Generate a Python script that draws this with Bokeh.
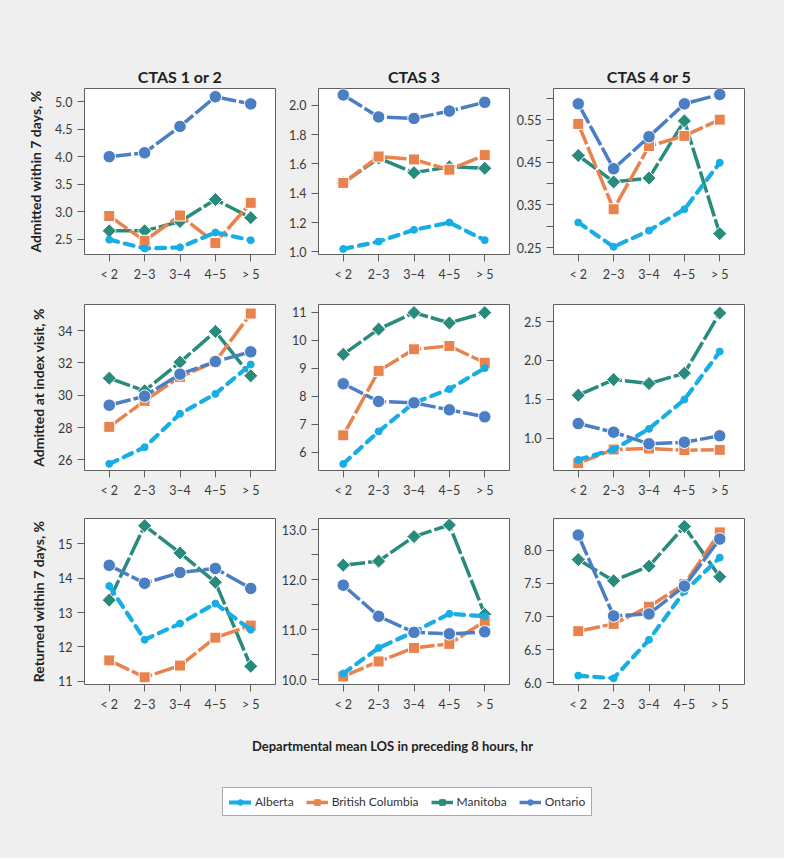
import numpy as np
from bokeh.plotting import figure
from bokeh.models import (Range1d, FixedTicker, NumeralTickFormatter, Legend,
                          LegendItem, Label, ColumnDataSource)
from bokeh.layouts import row, column
from bokeh.embed import file_html
from bokeh.resources import INLINE

# ---------------- data ----------------
cats = ["< 2", "2–3", "3–4", "4–5", "> 5"]
provinces = ["Alberta", "British Columbia", "Manitoba", "Ontario"]
col_titles = ["CTAS 1 or 2", "CTAS 3", "CTAS 4 or 5"]
row_labels = ["Admitted within 7 days, %", "Admitted at index visit, %",
              "Returned within 7 days, %"]
x_title = "Departmental mean LOS in preceding 8 hours, hr"

# Admitted within 7 days
adm7_c12_alberta = [2.49, 2.33, 2.35, 2.62, 2.48]
adm7_c12_bc = [2.92, 2.47, 2.93, 2.43, 3.16]
adm7_c12_manitoba = [2.65, 2.65, 2.82, 3.22, 2.89]
adm7_c12_ontario = [4.00, 4.07, 4.55, 5.09, 4.96]

adm7_c3_alberta = [1.02, 1.07, 1.15, 1.20, 1.08]
adm7_c3_bc = [1.47, 1.65, 1.63, 1.56, 1.66]
adm7_c3_manitoba = [1.47, 1.64, 1.54, 1.58, 1.57]
adm7_c3_ontario = [2.07, 1.92, 1.91, 1.96, 2.02]

adm7_c45_alberta = [0.309, 0.252, 0.290, 0.340, 0.449]
adm7_c45_bc = [0.540, 0.340, 0.488, 0.512, 0.550]
adm7_c45_manitoba = [0.466, 0.404, 0.413, 0.547, 0.283]
adm7_c45_ontario = [0.587, 0.435, 0.510, 0.587, 0.609]

# Admitted at index visit
idx_c12_alberta = [25.75, 26.78, 28.85, 30.08, 31.90]
idx_c12_bc = [28.04, 29.65, 31.13, 32.08, 35.05]
idx_c12_manitoba = [31.05, 30.27, 32.04, 33.94, 31.20]
idx_c12_ontario = [29.38, 29.94, 31.30, 32.08, 32.68]

idx_c3_alberta = [5.58, 6.74, 7.76, 8.25, 9.00]
idx_c3_bc = [6.60, 8.90, 9.67, 9.79, 9.19]
idx_c3_manitoba = [9.49, 10.39, 10.98, 10.61, 10.98]
idx_c3_ontario = [8.44, 7.81, 7.76, 7.51, 7.26]

idx_c45_alberta = [0.721, 0.854, 1.120, 1.497, 2.114]
idx_c45_bc = [0.678, 0.854, 0.867, 0.845, 0.850]
idx_c45_manitoba = [1.553, 1.754, 1.703, 1.836, 2.610]
idx_c45_ontario = [1.188, 1.077, 0.927, 0.948, 1.030]

# Returned within 7 days
ret_c12_alberta = [13.77, 12.21, 12.68, 13.26, 12.50]
ret_c12_bc = [11.61, 11.12, 11.46, 12.27, 12.62]
ret_c12_manitoba = [13.36, 15.52, 14.73, 13.88, 11.44]
ret_c12_ontario = [14.37, 13.85, 14.16, 14.28, 13.70]

ret_c3_alberta = [10.13, 10.64, 10.96, 11.32, 11.27]
ret_c3_bc = [10.07, 10.37, 10.64, 10.72, 11.17]
ret_c3_manitoba = [12.29, 12.37, 12.86, 13.09, 11.31]
ret_c3_ontario = [11.89, 11.27, 10.95, 10.92, 10.96]

ret_c45_alberta = [6.11, 6.07, 6.65, 7.38, 7.89]
ret_c45_bc = [6.78, 6.89, 7.15, 7.49, 8.27]
ret_c45_manitoba = [7.86, 7.54, 7.76, 8.36, 7.60]
ret_c45_ontario = [8.23, 7.01, 7.04, 7.46, 8.17]

# y tick values (major labelled, minor unlabelled)
yticks_adm7_c12 = [2.5, 3.0, 3.5, 4.0, 4.5, 5.0]
yticks_adm7_c3 = [1.0, 1.2, 1.4, 1.6, 1.8, 2.0]
yticks_adm7_c45 = [0.25, 0.35, 0.45, 0.55]
yminor_adm7_c45 = [0.30, 0.40, 0.50, 0.60]
yticks_idx_c12 = [26, 28, 30, 32, 34]
yticks_idx_c3 = [6, 7, 8, 9, 10, 11]
yticks_idx_c45 = [1.0, 1.5, 2.0, 2.5]
yticks_ret_c12 = [11, 12, 13, 14, 15]
yticks_ret_c3 = [10.0, 11.0, 12.0, 13.0]
yminor_ret_c3 = [10.5, 11.5, 12.5]
yticks_ret_c45 = [6.0, 6.5, 7.0, 7.5, 8.0]

# ---------------- styling ----------------
FONT = "Lato"
BG = "#eeefee"
styles = {
    "Alberta": dict(color="#19ade6", dash="9 7", width=4.2, cap="round",
                    marker="circle", size=7, angle=0.0, outline=None),
    "British Columbia": dict(color="#e8834d", dash="22 3", width=3.5, cap="butt",
                             marker="square", size=11, angle=0.0, outline="white"),
    "Manitoba": dict(color="#288b7b", dash="22 3", width=3.5, cap="butt",
                     marker="square", size=10, angle=np.pi / 4, outline="white"),
    "Ontario": dict(color="#4c7ec3", dash="22 3", width=3.5, cap="butt",
                    marker="circle", size=12.5, angle=0.0, outline="white"),
}
draw_order = ["Manitoba", "British Columbia", "Alberta", "Ontario"]

panels = [
    [dict(s=[adm7_c12_alberta, adm7_c12_bc, adm7_c12_manitoba, adm7_c12_ontario],
          yr=(2.22, 5.24), t=yticks_adm7_c12, m=[], f="0.0"),
     dict(s=[adm7_c3_alberta, adm7_c3_bc, adm7_c3_manitoba, adm7_c3_ontario],
          yr=(0.982, 2.114), t=yticks_adm7_c3, m=[], f="0.0"),
     dict(s=[adm7_c45_alberta, adm7_c45_bc, adm7_c45_manitoba, adm7_c45_ontario],
          yr=(0.234, 0.623), t=yticks_adm7_c45, m=yminor_adm7_c45, f="0.00")],
    [dict(s=[idx_c12_alberta, idx_c12_bc, idx_c12_manitoba, idx_c12_ontario],
          yr=(25.34, 35.61), t=yticks_idx_c12, m=[], f="0"),
     dict(s=[idx_c3_alberta, idx_c3_bc, idx_c3_manitoba, idx_c3_ontario],
          yr=(5.345, 11.27), t=yticks_idx_c3, m=[], f="0"),
     dict(s=[idx_c45_alberta, idx_c45_bc, idx_c45_manitoba, idx_c45_ontario],
          yr=(0.584, 2.72), t=yticks_idx_c45, m=[], f="0.0")],
    [dict(s=[ret_c12_alberta, ret_c12_bc, ret_c12_manitoba, ret_c12_ontario],
          yr=(10.91, 15.73), t=yticks_ret_c12, m=[], f="0"),
     dict(s=[ret_c3_alberta, ret_c3_bc, ret_c3_manitoba, ret_c3_ontario],
          yr=(9.91, 13.22), t=yticks_ret_c3, m=yminor_ret_c3, f="0.0"),
     dict(s=[ret_c45_alberta, ret_c45_bc, ret_c45_manitoba, ret_c45_ontario],
          yr=(5.976, 8.48), t=yticks_ret_c45, m=[], f="0.0")],
]

col_w = [278, 235, 271]
col_left = [84, 40, 40]
col_right = [3, 4, 40]
row_h = [290, 214, 210]
row_top = [88, 14, 14]
row_bot = [36, 34, 30]
BOTTOM_H = 144

xs = list(range(len(cats)))


def make_panel(r, c, spec):
    p = figure(width=col_w[c], height=row_h[r],
               x_range=Range1d(-0.7, len(cats) - 0.3), y_range=Range1d(*spec["yr"]),
               output_backend="svg", toolbar_location=None,
               min_border_left=col_left[c], min_border_right=col_right[c],
               min_border_top=row_top[r], min_border_bottom=row_bot[r])
    p.background_fill_color = "white"
    p.border_fill_color = BG
    p.outline_line_color = "#5f5f5f"
    p.outline_line_width = 1
    p.grid.visible = False
    if r == 0:
        p.title.text = col_titles[c]
        p.title.align = "center"
        p.title.text_font = FONT
        p.title.text_font_size = "16px"
        p.title.text_font_style = "bold"
        p.title.text_color = "#222222"
        p.title.standoff = 6

    for ax in (p.xaxis[0], p.yaxis[0]):
        ax.axis_line_color = None
        ax.major_tick_in = 0
        ax.major_tick_out = 7
        ax.major_tick_line_color = "#5f5f5f"
        ax.minor_tick_in = 0
        ax.minor_tick_out = 7
        ax.minor_tick_line_color = "#5f5f5f"
        ax.major_label_text_font = FONT
        ax.major_label_text_font_size = "12.5px"
        ax.major_label_text_color = "#3a3a3a"
        ax.major_label_standoff = 5

    p.xaxis.ticker = FixedTicker(ticks=xs, minor_ticks=[])
    p.xaxis.major_label_overrides = {i: lab for i, lab in enumerate(cats)}
    p.yaxis.ticker = FixedTicker(ticks=spec["t"], minor_ticks=spec["m"])
    p.yaxis.formatter = NumeralTickFormatter(format=spec["f"])
    if c == 0:
        p.yaxis.axis_label = row_labels[r]
        p.yaxis.axis_label_text_font = FONT
        p.yaxis.axis_label_text_font_size = "14px"
        p.yaxis.axis_label_text_font_style = "bold"
        p.yaxis.axis_label_text_color = "#222222"
        p.yaxis.axis_label_standoff = 8

    for prov in draw_order:
        st = styles[prov]
        vals = spec["s"][provinces.index(prov)]
        src = ColumnDataSource(dict(x=xs, y=vals))
        p.line("x", "y", source=src, line_color=st["color"], line_width=st["width"],
               line_dash=st["dash"], line_cap=st["cap"], line_join="round")
        p.scatter("x", "y", source=src, marker=st["marker"], size=st["size"],
                  angle=st["angle"], fill_color=st["color"],
                  line_color=st["outline"] if st["outline"] else st["color"],
                  line_width=1)
    return p


rows = []
for r in range(3):
    rows.append(row([make_panel(r, c, panels[r][c]) for c in range(3)], spacing=0,
                    styles={"background-color": BG}))

# bottom: x-axis title and legend
b = figure(width=sum(col_w), height=BOTTOM_H, x_range=Range1d(0, 1), y_range=Range1d(0, 1),
           x_axis_location=None, y_axis_location=None, output_backend="svg",
           toolbar_location=None, min_border=0)
b.background_fill_color = BG
b.border_fill_color = BG
b.outline_line_color = None
b.grid.visible = False
b.add_layout(Label(x=0.5, y=(BOTTOM_H - 31) / BOTTOM_H, text=x_title, text_align="center",
                   text_baseline="middle", text_font=FONT, text_font_size="13px",
                   text_font_style="bold", text_color="#222222"))

# legend proxies: off-canvas points so only the legend glyphs are visible
items = []
for prov in provinces:
    st = styles[prov]
    src = ColumnDataSource(dict(x=[-10.0, -9.0], y=[-10.0, -10.0]))
    lr = b.line("x", "y", source=src, line_color=st["color"], line_width=st["width"],
                line_cap=st["cap"])
    sr = b.scatter("x", "y", source=src, marker=st["marker"],
                   size=st["size"] * 0.7, angle=st["angle"], fill_color=st["color"],
                   line_color=st["color"], line_width=1)
    items.append(LegendItem(label=prov, renderers=[lr, sr]))
leg = Legend(items=items, orientation="horizontal", location=(222, 42),
             padding=6, spacing=12, margin=0, glyph_width=22, glyph_height=14,
             label_height=14, label_standoff=4, label_text_font=FONT,
             label_text_font_size="12px", label_text_color="#333333",
             border_line_color="#555555", border_line_width=1,
             background_fill_color="white", background_fill_alpha=1.0)
b.add_layout(leg)

layout = column(rows + [b], spacing=0, styles={"background-color": BG})

open("out.html", "w").write(file_html(layout, INLINE))
